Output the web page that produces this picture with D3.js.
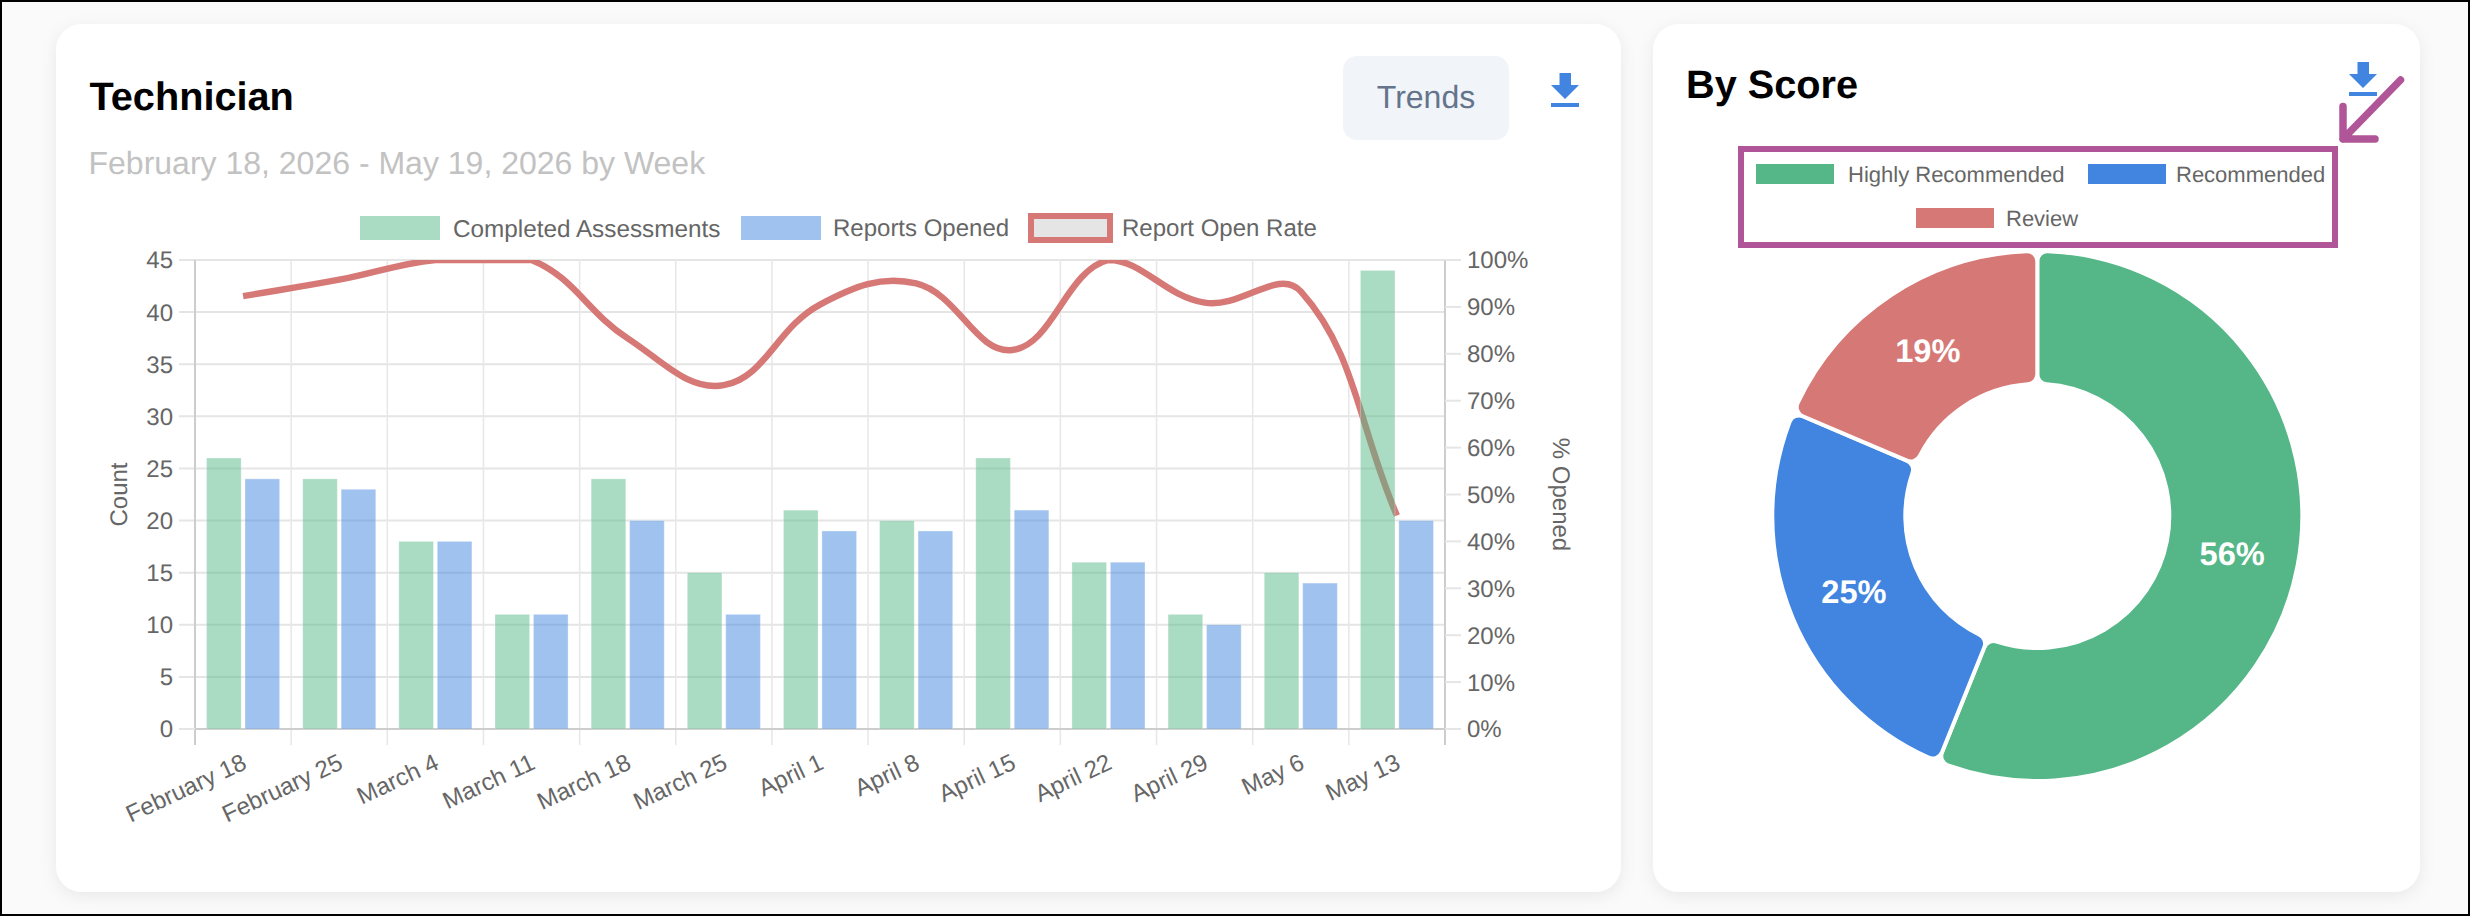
<!DOCTYPE html>
<html>
<head>
<meta charset="utf-8">
<script src="https://cdn.jsdelivr.net/npm/d3@7"></script>
<style>
	html, body { margin: 0; padding: 0; background: #000; }
	svg { display: block; }
	text { font-family: "Liberation Sans", Arial, sans-serif; text-rendering: geometricPrecision; }
</style>
</head>
<body>
<svg id="chart" width="2470" height="916"></svg>
<script>
// --- Data ---
const weeks = ["February 18", "February 25", "March 4", "March 11", "March 18", "March 25", "April 1", "April 8", "April 15", "April 22", "April 29", "May 6", "May 13"];
const completed = [26, 24, 18, 11, 24, 15, 21, 20, 26, 16, 11, 15, 44];
const opened = [24, 23, 18, 11, 20, 11, 19, 19, 21, 16, 10, 14, 20];
const openRate = [0.923, 0.958, 1, 1, 0.833, 0.733, 0.905, 0.95, 0.808, 1, 0.909, 0.933, 0.455];
const countTicks = [0, 5, 10, 15, 20, 25, 30, 35, 40, 45];
const rateTicks = [0, 0.1, 0.2, 0.3, 0.4, 0.5, 0.6, 0.7, 0.8, 0.9, 1];
const scoreLabels = ["Highly Recommended", "Recommended", "Review"];
const scoreValues = [56.1, 25.3, 18.6];

const GREEN = "#55b787";
const BLUE = "#4185e0";
const RED = "#d67976";
const PURPLE = "#b05597";
const GREY = "#666";

const svg = d3.select("#chart");

// -------------------------
// Page and cards
// -------------------------
svg.append("rect")
	.attr("x", 2).attr("y", 2)
	.attr("width", 2466).attr("height", 912)
	.attr("fill", "#fafafa");

const defs = svg.append("defs");
const shadow = defs.append("filter")
	.attr("id", "cardShadow")
	.attr("x", "-5%").attr("y", "-5%")
	.attr("width", "110%").attr("height", "110%");
shadow.append("feDropShadow")
	.attr("dx", 0).attr("dy", 4)
	.attr("stdDeviation", 8)
	.attr("flood-color", "#000")
	.attr("flood-opacity", 0.07);

[[56, 1565], [1653, 767]].forEach(([x, w]) => {
	svg.append("rect")
		.attr("x", x).attr("y", 24)
		.attr("width", w).attr("height", 868)
		.attr("rx", 26)
		.attr("fill", "#fff")
		.attr("filter", "url(#cardShadow)");
});

// Download icon, x/y is the top left corner
function drawDownload(x, y) {
	svg.append("path")
		.attr("d", `M${x + 8.5},${y}h11.5v12h8l-14,14l-14,-14h8.5z`)
		.attr("fill", BLUE);
	svg.append("rect")
		.attr("x", x).attr("y", y + 30)
		.attr("width", 28).attr("height", 4)
		.attr("fill", BLUE);
}

// --- Left card header ---
svg.append("text")
	.attr("x", 89.5).attr("y", 110)
	.attr("font-size", 39.7).attr("font-weight", 700)
	.attr("fill", "#000")
	.text("Technician");

svg.append("text")
	.attr("x", 88.5).attr("y", 174)
	.attr("font-size", 32)
	.attr("fill", "#c2c2c2")
	.text("February 18, 2026 - May 19, 2026 by Week");

svg.append("rect")
	.attr("x", 1343).attr("y", 56)
	.attr("width", 166).attr("height", 84)
	.attr("rx", 14)
	.attr("fill", "#f1f5f9");
svg.append("text")
	.attr("x", 1426).attr("y", 108)
	.attr("text-anchor", "middle")
	.attr("font-size", 32)
	.attr("fill", "#64748b")
	.text("Trends");

drawDownload(1551, 73);

// -------------------------
// Combo chart
// -------------------------
const plot = { left: 195, right: 1445, top: 260, bottom: 729 };

const x = d3.scaleBand().domain(weeks).range([plot.left, plot.right]);
const xInner = d3.scaleBand()
	.domain(["completed", "opened"])
	.range([x.bandwidth() * 0.1, x.bandwidth() * 0.9])
	.paddingInner(0.1)
	.paddingOuter(0.05);
const yCount = d3.scaleLinear().domain([0, 45]).range([plot.bottom, plot.top]);
const yRate = d3.scaleLinear().domain([0, 1]).range([plot.bottom, plot.top]);

const chart = svg.append("g");
const GRID = "#e5e5e5";
const AXIS = "#cdcdcd";

// --- Grid lines (the bars are translucent, so these show through) ---
chart.append("g")
	.selectAll("line")
	.data(countTicks.filter((d) => d > 0))
	.enter()
	.append("line")
	.attr("x1", plot.left - 16).attr("x2", plot.right)
	.attr("y1", (d) => yCount(d)).attr("y2", (d) => yCount(d))
	.attr("stroke", GRID).attr("stroke-width", 2);

const edges = weeks.map((d) => x(d)).concat([plot.right]);
chart.append("g")
	.selectAll("line")
	.data(edges)
	.enter()
	.append("line")
	.attr("x1", (d) => d).attr("x2", (d) => d)
	.attr("y1", plot.top).attr("y2", plot.bottom + 16)
	.attr("stroke", (d, i) => (i === 0 || i === edges.length - 1 ? AXIS : "#e8e8e8"))
	.attr("stroke-width", (d, i) => (i === 0 || i === edges.length - 1 ? 2 : 1.6));

chart.append("line")
	.attr("x1", plot.left - 16).attr("x2", plot.right)
	.attr("y1", plot.bottom).attr("y2", plot.bottom)
	.attr("stroke", GRID).attr("stroke-width", 2);
chart.append("line")
	.attr("x1", plot.left).attr("x2", plot.right)
	.attr("y1", plot.bottom).attr("y2", plot.bottom)
	.attr("stroke", AXIS).attr("stroke-width", 2);

// --- Right axis tick marks ---
chart.append("g")
	.selectAll("line")
	.data(rateTicks)
	.enter()
	.append("line")
	.attr("x1", plot.right).attr("x2", plot.right + 16)
	.attr("y1", (d) => yRate(d)).attr("y2", (d) => yRate(d))
	.attr("stroke", GRID).attr("stroke-width", 2);

// --- Axis labels ---
chart.append("g")
	.selectAll("text")
	.data(countTicks)
	.enter()
	.append("text")
	.attr("x", plot.left - 22)
	.attr("y", (d) => yCount(d))
	.attr("dy", "0.35em")
	.attr("text-anchor", "end")
	.attr("font-size", 24).attr("fill", GREY)
	.text((d) => d);

chart.append("g")
	.selectAll("text")
	.data(rateTicks)
	.enter()
	.append("text")
	.attr("x", plot.right + 22)
	.attr("y", (d) => yRate(d))
	.attr("dy", "0.35em")
	.attr("font-size", 24).attr("fill", GREY)
	.text(d3.format(".0%"));

chart.append("g")
	.selectAll("text")
	.data(weeks)
	.enter()
	.append("text")
	.attr("transform", (d) => `translate(${x(d) + x.bandwidth() / 2 + 5},${plot.bottom + 39}) rotate(-25)`)
	.attr("text-anchor", "end")
	.attr("font-size", 24).attr("fill", GREY)
	.text((d) => d);

chart.append("text")
	.attr("transform", `translate(127,${(plot.top + plot.bottom) / 2}) rotate(-90)`)
	.attr("text-anchor", "middle")
	.attr("font-size", 24).attr("fill", GREY)
	.text("Count");

chart.append("text")
	.attr("transform", `translate(1552.5,${(plot.top + plot.bottom) / 2}) rotate(90)`)
	.attr("text-anchor", "middle")
	.attr("font-size", 24).attr("fill", GREY)
	.text("% Opened");

// --- Rate line: spline with control points capped to the plot area ---
function ratePath(points) {
	const path = d3.path();
	const tension = 0.4;
	const capY = (v) => Math.min(plot.bottom, Math.max(plot.top, v));
	const ctrl = points.map((p, i) => {
		const prev = points[i - 1] || p;
		const next = points[i + 1] || p;
		const d01 = Math.hypot(p[0] - prev[0], p[1] - prev[1]);
		const d12 = Math.hypot(next[0] - p[0], next[1] - p[1]);
		const s01 = d01 / (d01 + d12) || 0;
		const s12 = d12 / (d01 + d12) || 0;
		return {
			inX: p[0] - tension * s01 * (next[0] - prev[0]),
			inY: capY(p[1] - tension * s01 * (next[1] - prev[1])),
			outX: p[0] + tension * s12 * (next[0] - prev[0]),
			outY: capY(p[1] + tension * s12 * (next[1] - prev[1]))
		};
	});
	points.forEach((p, i) => {
		if (i === 0) path.moveTo(p[0], p[1]);
		else path.bezierCurveTo(ctrl[i - 1].outX, ctrl[i - 1].outY, ctrl[i].inX, ctrl[i].inY, p[0], p[1]);
	});
	return path.toString();
}

defs.append("clipPath")
	.attr("id", "plotClip")
	.append("rect")
	.attr("x", plot.left).attr("y", plot.top)
	.attr("width", plot.right - plot.left).attr("height", plot.bottom - plot.top);

chart.append("path")
	.attr("d", ratePath(weeks.map((d, i) => [x(d) + x.bandwidth() / 2, yRate(openRate[i])])))
	.attr("clip-path", "url(#plotClip)")
	.attr("fill", "none")
	.attr("stroke", RED)
	.attr("stroke-width", 6.4);

// --- Bars, drawn over the line ---
const drawBars = (key, values, color) => {
	chart.append("g")
		.selectAll("rect")
		.data(values)
		.enter()
		.append("rect")
		.attr("x", (d, i) => x(weeks[i]) + xInner(key))
		.attr("y", (d) => yCount(d))
		.attr("width", xInner.bandwidth())
		.attr("height", (d) => yCount(0) - yCount(d))
		.attr("fill", color)
		.attr("fill-opacity", 0.5)
		.attr("stroke", "#fff")
		.attr("stroke-opacity", 0.3)
		.attr("stroke-width", 1);
};
drawBars("completed", completed, GREEN);
drawBars("opened", opened, BLUE);

// --- Legend ---
const legend = svg.append("g").attr("font-size", 24).attr("fill", GREY);
legend.append("rect")
	.attr("x", 360).attr("y", 216).attr("width", 80).attr("height", 24)
	.attr("fill", GREEN).attr("fill-opacity", 0.5);
legend.append("text").attr("x", 453).attr("y", 228).attr("dy", "0.35em").attr("font-size", 24.3).text("Completed Assessments");
legend.append("rect")
	.attr("x", 741).attr("y", 216).attr("width", 80).attr("height", 24)
	.attr("fill", BLUE).attr("fill-opacity", 0.5);
legend.append("text").attr("x", 833).attr("y", 228).attr("dy", "0.35em").text("Reports Opened");
legend.append("rect")
	.attr("x", 1031).attr("y", 216).attr("width", 79).attr("height", 24)
	.attr("fill", "#e5e5e5")
	.attr("stroke", RED).attr("stroke-width", 6);
legend.append("text").attr("x", 1122).attr("y", 228).attr("dy", "0.35em").text("Report Open Rate");

// -------------------------
// Donut
// -------------------------
svg.append("text")
	.attr("x", 1686).attr("y", 98)
	.attr("font-size", 39.7).attr("font-weight", 700)
	.attr("fill", "#000")
	.text("By Score");

drawDownload(2349, 62);

const scoreColors = [GREEN, BLUE, RED];
const total = d3.sum(scoreValues);
const pie = d3.pie().sort(null)(scoreValues);
const arc = d3.arc().innerRadius(132).outerRadius(265).cornerRadius(10);
const donut = svg.append("g").attr("transform", "translate(2037.3,516)");

donut.selectAll("path")
	.data(pie)
	.enter()
	.append("path")
	.attr("d", arc)
	.attr("fill", (d, i) => scoreColors[i])
	.attr("stroke", "#fff")
	.attr("stroke-width", 4);

donut.selectAll("text")
	.data(pie)
	.enter()
	.append("text")
	.attr("transform", (d) => `translate(${arc.centroid(d)})`)
	.attr("dy", "0.35em")
	.attr("text-anchor", "middle")
	.attr("font-size", 32.6).attr("font-weight", 700)
	.attr("fill", "#fff")
	.text((d) => d3.format(".0%")(d.value / total));

// --- Donut legend ---
const scoreLegend = svg.append("g").attr("font-size", 22).attr("fill", GREY);
[[1756, 174, 1848], [2088, 174, 2176], [1916, 218, 2006]].forEach(([sx, cy, tx], i) => {
	scoreLegend.append("rect")
		.attr("x", sx).attr("y", cy - 10)
		.attr("width", 78).attr("height", 20)
		.attr("fill", scoreColors[i]);
	scoreLegend.append("text")
		.attr("x", tx).attr("y", cy)
		.attr("dy", "0.35em")
		.text(scoreLabels[i]);
});

// --- Purple annotation box and arrow ---
svg.append("rect")
	.attr("x", 1741).attr("y", 149)
	.attr("width", 594).attr("height", 96)
	.attr("fill", "none")
	.attr("stroke", PURPLE).attr("stroke-width", 6);
svg.append("path")
	.attr("d", "M2400.5,80L2343,139M2343,106.5V139H2375")
	.attr("fill", "none")
	.attr("stroke", PURPLE)
	.attr("stroke-width", 7.5)
	.attr("stroke-linecap", "round")
	.attr("stroke-linejoin", "round");
</script>
</body>
</html>
